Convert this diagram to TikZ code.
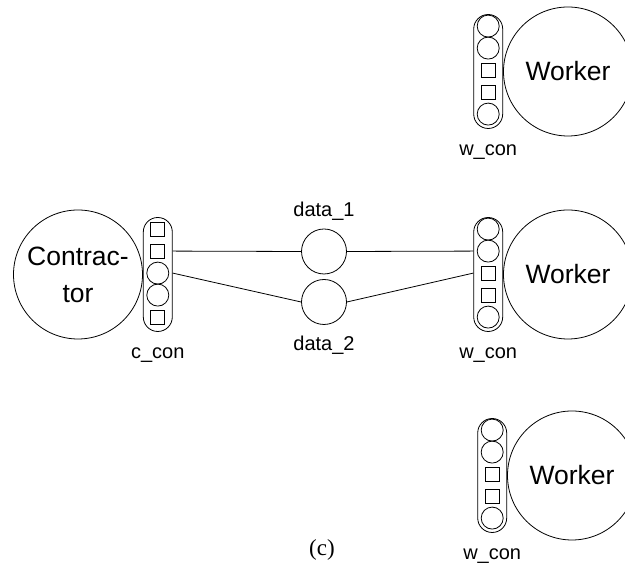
\documentclass[tikz,border=0pt]{standalone}
\usepackage{fontspec}
\setmainfont{Liberation Sans}
\newfontfamily\capfont{Liberation Serif}
\usetikzlibrary{positioning, calc}

% column of ports inside a connector: #1 connector name, #2 port kinds (c/s)
\newcommand{\portcol}[2]{%
    \foreach \s [count=\i] in {#2} {
        \node[port\s] (#1-\i) at ([yshift={-(12+22*(\i-1))*1pt}]#1.north) {};
    }%
}

\begin{document}
\begin{tikzpicture}[
    x=1pt, y=1pt,
    agent/.style={
        circle, draw, line width=0.8pt, minimum size=129pt, inner sep=0pt,
        font=\fontsize{26.5}{37}\selectfont, align=center
    },
    conn/.style={
        rectangle, draw, line width=0.8pt, rounded corners=14.5pt,
        minimum width=29pt, minimum height=114pt, inner sep=0pt
    },
    portc/.style={circle, draw, line width=0.8pt, minimum size=22pt, inner sep=0pt},
    ports/.style={rectangle, draw, line width=0.8pt, minimum size=14pt, inner sep=0pt},
    data/.style={circle, draw, line width=0.8pt, minimum size=45pt, inner sep=0pt},
    tag/.style={font=\fontsize{20}{22}\selectfont, inner sep=2pt},
    wire/.style={line width=0.8pt}
]
\useasboundingbox (0,0) rectangle (625,569);

%% ---- Contractor ----
\node[agent] (contractor) at (78,294.5) {Contrac-\\tor};
\node[conn, right=0pt of contractor] (ccon) {};
\portcol{ccon}{s,s,c,c,s}
\node[tag, below=14pt of ccon] {c\_con};

%% ---- Workers ----
\node[agent] (wtop) at (568,497.5) {Worker};
\node[conn, left=0pt of wtop] (wcontop) {};
\portcol{wcontop}{c,c,s,s,c}
\node[tag, below=14pt of wcontop] {w\_con};

\node[agent] (wmid) at (568,294.5) {Worker};
\node[conn, left=0pt of wmid] (wconmid) {};
\portcol{wconmid}{c,c,s,s,c}
\node[tag, below=14pt of wconmid] {w\_con};

\node[agent] (wbot) at (572,93.5) {Worker};
\node[conn, left=0pt of wbot] (wconbot) {};
\portcol{wconbot}{c,c,s,s,c}
\node[tag, below=14pt of wconbot] {w\_con};

%% ---- Data ----
\node[data] (data1) at (324,317.5) {};
\node[tag, above=6pt of data1] {data\_1};
\node[data] (data2) at (324,267) {};
\node[tag, below=9pt of data2] {data\_2};

% wires
\draw[wire] (ccon-2 -| ccon.east) -- (data1.west);
\draw[wire] (data1.east) -- (wconmid-2 -| wconmid.west);
\draw[wire] (ccon-3 -| ccon.east) -- (data2.west);
\draw[wire] (data2.east) -- (wconmid-3 -| wconmid.west);

%% ---- Caption ----
\node[font=\capfont\fontsize{23}{26}\selectfont] (cap) at (322,19) {(c)};

\end{tikzpicture}
\end{document}
